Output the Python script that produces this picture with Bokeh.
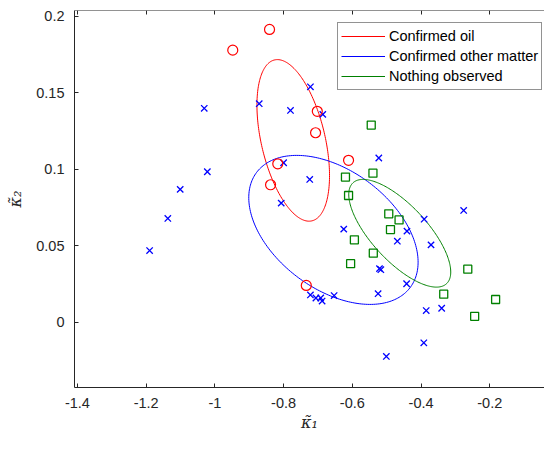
import numpy as np
from bokeh.plotting import figure
from bokeh.models import LinearAxis, FixedTicker, Range1d, Legend
from bokeh.embed import file_html
from bokeh.resources import INLINE

# ---- data ----
oil_x = [-0.841, -0.948, -0.702, -0.707, -0.611, -0.817, -0.838, -0.734]
oil_y = [0.1915, 0.178, 0.138, 0.124, 0.106, 0.1037, 0.090, 0.0242]

other_x = [-1.190, -1.137, -1.101, -1.022, -1.031, -0.871, -0.780, -0.722,
           -0.686, -0.800, -0.724, -0.807, -0.625, -0.523, -0.722, -0.706,
           -0.692, -0.688, -0.653, -0.525, -0.521, -0.517, -0.469, -0.441,
           -0.391, -0.371, -0.442, -0.276, -0.385, -0.340, -0.392, -0.501]
other_y = [0.047, 0.068, 0.087, 0.0985, 0.140, 0.143, 0.1386, 0.154,
           0.136, 0.1044, 0.0935, 0.078, 0.061, 0.1075, 0.018, 0.016,
           0.016, 0.014, 0.0176, 0.0188, 0.0352, 0.0345, 0.0531, 0.0597,
           0.0675, 0.0507, 0.0253, 0.0732, 0.0078, 0.0093, -0.0133, -0.0222]

none_x = [-0.545, -0.540, -0.620, -0.611, -0.494, -0.464, -0.489, -0.594,
          -0.539, -0.605, -0.264, -0.334, -0.183, -0.244]
none_y = [0.129, 0.0976, 0.095, 0.083, 0.071, 0.067, 0.0607, 0.054,
          0.0453, 0.0384, 0.0348, 0.0185, 0.015, 0.004]

# ellipse parameters: centre, std devs, correlation
ell_names = ["Confirmed oil", "Confirmed other matter", "Nothing observed"]
ell_cx = [-0.772, -0.655, -0.462]
ell_cy = [0.119, 0.0605, 0.0583]
ell_sx = [0.1056, 0.2464, 0.1484]
ell_sy = [0.0528, 0.0487, 0.0352]
ell_rho = [-0.4357, -0.433, -0.7196]
ell_colors = ["#ff0000", "#0000ff", "#008000"]

x_ticks = [-1.4, -1.2, -1.0, -0.8, -0.6, -0.4, -0.2, 0.0]
y_ticks = [0.0, 0.05, 0.1, 0.15, 0.2]
x_tick_labels = {-1.4: "-1.4", -1.2: "-1.2", -1.0: "-1", -0.8: "-0.8",
                 -0.6: "-0.6", -0.4: "-0.4", -0.2: "-0.2", 0.0: "0"}
y_tick_labels = {0.0: "0", 0.05: "0.05", 0.1: "0.1", 0.15: "0.15", 0.2: "0.2"}

AX = "#262626"
FONT = "Liberation Sans"

W, H = 544, 434
BL, BT, BB = 74, 10, 47
PX_PER_X = 343.6
PX_PER_Y = 1530.0
x0 = -1.4086
x1 = x0 + (W - BL) / PX_PER_X
y1 = 0.2039
y0 = y1 - (H - BT - BB) / PX_PER_Y

p = figure(width=W, height=H, output_backend="svg", toolbar_location=None,
           title=None, x_range=Range1d(x0, x1), y_range=Range1d(y0, y1),
           min_border_left=BL, min_border_right=0, min_border_top=BT,
           min_border_bottom=BB)
p.grid.visible = False
p.outline_line_color = None
p.background_fill_color = "white"
p.border_fill_color = "white"

for ax in (p.xaxis[0], p.yaxis[0]):
    ax.axis_line_color = AX
    ax.major_tick_line_color = AX
    ax.major_tick_in = 4
    ax.major_tick_out = 0
    ax.minor_tick_line_color = None
    ax.major_label_text_font = FONT
    ax.major_label_text_font_size = "14.5px"
    ax.major_label_text_color = AX
    ax.axis_label_text_font = "DejaVu Serif"
    ax.axis_label_text_font_style = "italic"
    ax.axis_label_text_font_size = "16px"
    ax.axis_label_text_color = AX

p.xaxis[0].ticker = FixedTicker(ticks=x_ticks)
p.xaxis[0].major_label_overrides = x_tick_labels
p.xaxis[0].major_label_standoff = 10
p.xaxis[0].axis_label = "κ̃₁"
p.xaxis[0].axis_label_standoff = 2

p.yaxis[0].ticker = FixedTicker(ticks=y_ticks)
p.yaxis[0].major_label_overrides = y_tick_labels
p.yaxis[0].major_label_standoff = 10
p.yaxis[0].axis_label = "κ̃₂"
p.yaxis[0].axis_label_standoff = 8

top = LinearAxis(ticker=FixedTicker(ticks=x_ticks), fixed_location=y1)
top.axis_line_color = AX
top.major_tick_line_color = AX
top.major_tick_in = 4
top.major_tick_out = 0
top.minor_tick_line_color = None
top.major_label_text_color = None
p.add_layout(top, "above")

# ellipses
t = np.linspace(0, 2 * np.pi, 240)
legend_items = []
for name, cx, cy, sx, sy, r, c in zip(ell_names, ell_cx, ell_cy, ell_sx, ell_sy, ell_rho, ell_colors):
    ex = cx + sx * np.cos(t)
    ey = cy + sy * (r * np.cos(t) + np.sqrt(1 - r * r) * np.sin(t))
    gl = p.line(ex, ey, line_color=c, line_width=1)
    legend_items.append((name, [gl]))

# points
p.scatter(other_x, other_y, marker="x", size=9, line_color="#0000ff", line_width=1.3)
p.scatter(none_x, none_y, marker="square", size=8, line_color="#008000",
          fill_color=None, line_width=1.3)
p.scatter(oil_x, oil_y, marker="circle", size=10, line_color="#ff0000",
          fill_color=None, line_width=1.2)

frame_h = H - BT - BB
legend = Legend(items=legend_items, location=(263, frame_h - 80))
legend.glyph_width = 44
legend.glyph_height = 20
legend.label_height = 20
legend.spacing = 0
legend.padding = 3
legend.margin = 0
legend.label_standoff = 4
legend.label_text_font = FONT
legend.label_text_font_size = "14.5px"
legend.label_text_color = "black"
legend.border_line_color = AX
legend.border_line_width = 1
legend.background_fill_color = "white"
legend.background_fill_alpha = 1
p.add_layout(legend, "center")

open("out.html", "w").write(file_html(p, INLINE))
